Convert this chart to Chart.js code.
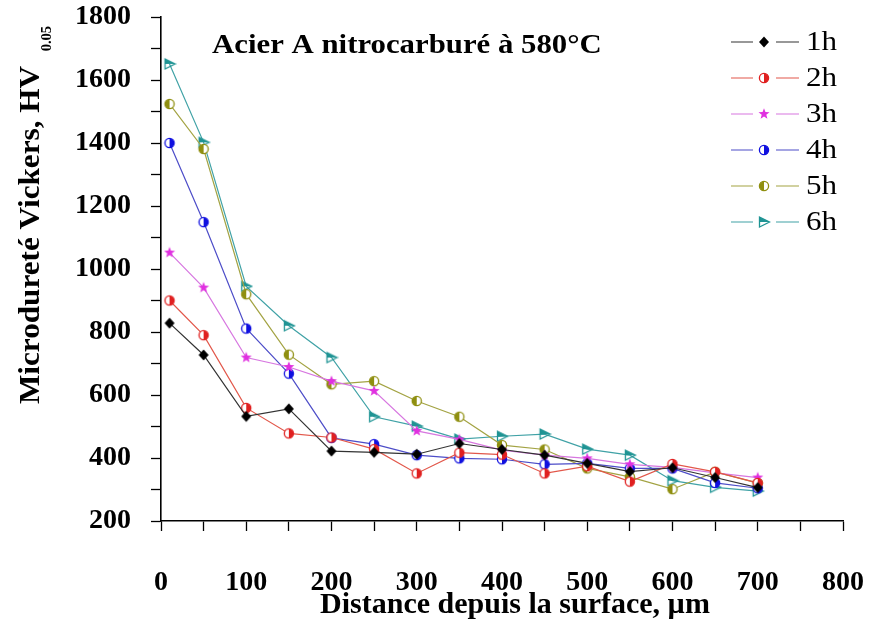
<!DOCTYPE html>
<html>
<head>
<meta charset="utf-8">
<script src="https://cdn.jsdelivr.net/npm/chart.js@4.4.1/dist/chart.umd.min.js"></script>
<style>
  body { margin: 0; background: #fff; }
</style>
</head>
<body>
<canvas id="hvChart" width="870" height="627"></canvas>
<script>
// distances from the surface (µm)
const distances = [10, 50, 100, 150, 200, 250, 300, 350, 400, 450, 500, 550, 600, 650, 700];

// microhardness HV0.05 for each nitrocarburizing time
const hv1h = [828, 727, 532, 556, 422, 418, 412, 446, 427, 409, 383, 357, 369, 338, 306];
const hv2h = [900, 790, 559, 478, 465, 428, 351, 417, 411, 351, 374, 325, 381, 356, 321];
const hv3h = [1052, 941, 719, 689, 644, 613, 486, 459, 425, 409, 399, 380, 370, 353, 338];
const hv4h = [1400, 1149, 811, 668, 464, 444, 409, 399, 396, 380, 383, 367, 367, 321, 304];
const hv5h = [1524, 1381, 920, 728, 634, 644, 581, 531, 441, 427, 367, 340, 301, 356, 320];
const hv6h = [1651, 1402, 945, 820, 719, 531, 501, 460, 469, 476, 428, 409, 328, 307, 295];

const seriesLabels = ["1h", "2h", "3h", "4h", "5h", "6h"];

const SERIF = "'Liberation Serif', 'Times New Roman', serif";

// small canvases used as point markers
function makeMarker(shape, color) {
  const c = document.createElement("canvas");
  c.width = 14;
  c.height = 14;
  const g = c.getContext("2d");
  const m = 7;
  g.strokeStyle = color;
  g.fillStyle = color;
  g.lineWidth = 1.3;
  if (shape === "diamond") {
    g.beginPath();
    g.moveTo(m, m - 5.5);
    g.lineTo(m + 5, m);
    g.lineTo(m, m + 5.5);
    g.lineTo(m - 5, m);
    g.closePath();
    g.fill();
  } else if (shape === "halfRight" || shape === "halfLeft") {
    const r = 4.6;
    g.beginPath();
    g.arc(m, m, r, 0, Math.PI * 2);
    g.fillStyle = "#fff";
    g.fill();
    g.fillStyle = color;
    g.beginPath();
    if (shape === "halfRight") g.arc(m, m, r, -Math.PI / 2, Math.PI / 2, false);
    else g.arc(m, m, r, Math.PI / 2, Math.PI * 1.5, false);
    g.closePath();
    g.fill();
    g.beginPath();
    g.arc(m, m, r, 0, Math.PI * 2);
    g.stroke();
  } else if (shape === "star") {
    g.beginPath();
    for (let i = 0; i < 10; i++) {
      const rad = i % 2 === 0 ? 5.8 : 2.4;
      const a = -Math.PI / 2 + i * Math.PI / 5;
      g.lineTo(m + rad * Math.cos(a), m + rad * Math.sin(a));
    }
    g.closePath();
    g.fill();
  } else if (shape === "triangle") {
    g.beginPath();
    g.moveTo(m - 4.5, m - 5);
    g.lineTo(m + 5.5, m);
    g.lineTo(m - 4.5, m);
    g.closePath();
    g.fill();
    g.beginPath();
    g.moveTo(m - 4.5, m - 5);
    g.lineTo(m + 5.5, m);
    g.lineTo(m - 4.5, m + 5);
    g.closePath();
    g.stroke();
  }
  return c;
}

const seriesStyle = [
  { line: "#333333", marker: makeMarker("diamond", "#000000") },
  { line: "#e2574a", marker: makeMarker("halfRight", "#e02020") },
  { line: "#d777e0", marker: makeMarker("star", "#e030e0") },
  { line: "#4d4dc8", marker: makeMarker("halfRight", "#1010e0") },
  { line: "#a3a343", marker: makeMarker("halfLeft", "#8f8f10") },
  { line: "#40a2a6", marker: makeMarker("triangle", "#1f9494") }
];

const allSeries = [hv1h, hv2h, hv3h, hv4h, hv5h, hv6h];

const datasets = allSeries.map((vals, i) => ({
  label: seriesLabels[i],
  data: vals.map((v, k) => ({ x: distances[k], y: v })),
  borderColor: seriesStyle[i].line,
  backgroundColor: seriesStyle[i].line,
  borderWidth: 1.2,
  pointStyle: seriesStyle[i].marker,
  tension: 0
}));

// titles and legend drawn at fixed spots like the original figure
const annotations = {
  id: "annotations",
  afterDraw(chart) {
    const ctx = chart.ctx;
    ctx.save();
    ctx.fillStyle = "#000";

    // title inside the plot (original type is a bit wider)
    ctx.save();
    ctx.translate(212, 53);
    ctx.scale(1.1, 1);
    ctx.font = "bold 28px " + SERIF;
    ctx.textAlign = "left";
    ctx.textBaseline = "alphabetic";
    ctx.fillText("Acier A nitrocarburé à 580°C", 0, 0);
    ctx.restore();

    // legend: line - marker - line, label
    chart.data.datasets.forEach((ds, i) => {
      const y = 42 + i * 36;
      ctx.strokeStyle = ds.borderColor;
      ctx.lineWidth = 1.2;
      ctx.beginPath();
      ctx.moveTo(731, y);
      ctx.lineTo(753, y);
      ctx.moveTo(776, y);
      ctx.lineTo(799, y);
      ctx.stroke();
      const img = ds.pointStyle;
      ctx.drawImage(img, 764 - img.width / 2, y - img.height / 2);
      ctx.save();
      ctx.translate(806, y + 1);
      ctx.scale(1.15, 1);
      ctx.fillStyle = "#000";
      ctx.font = "27px " + SERIF;
      ctx.textAlign = "left";
      ctx.textBaseline = "middle";
      ctx.fillText(ds.label, 0, 0);
      ctx.restore();
    });

    // x-axis title
    ctx.font = "bold 30px " + SERIF;
    ctx.textAlign = "center";
    ctx.textBaseline = "alphabetic";
    ctx.fillText("Distance depuis la surface, µm", 515, 613);

    // y-axis title with subscript
    ctx.translate(31, 235);
    ctx.rotate(-Math.PI / 2);
    ctx.scale(1.04, 1);
    ctx.font = "bold 30px " + SERIF;
    ctx.textAlign = "center";
    ctx.textBaseline = "middle";
    const main = "Microdureté Vickers, HV";
    ctx.fillText(main, 0, 0);
    const w = ctx.measureText(main).width;
    ctx.font = "bold 14px " + SERIF;
    ctx.textAlign = "left";
    ctx.fillText("0.05", w / 2 + 14, 16);
    ctx.restore();
  }
};

new Chart(document.getElementById("hvChart"), {
  type: "line",
  data: { datasets: datasets },
  options: {
    responsive: false,
    animation: false,
    layout: { padding: 0 },
    plugins: {
      legend: { display: false },
      tooltip: { enabled: false }
    },
    scales: {
      x: {
        type: "linear",
        min: 0,
        max: 800,
        afterFit: (scale) => {
          scale.height = 106;
          scale.paddingLeft = 10;
          scale.paddingRight = 27;
        },
        ticks: {
          stepSize: 50,
          autoSkip: false,
          maxRotation: 0,
          padding: 35,
          color: "#000",
          font: { family: SERIF, size: 28, weight: "bold" },
          callback: (v) => (v % 100 === 0 ? v : "")
        },
        grid: { drawOnChartArea: false, tickLength: 10, tickColor: "#000", tickWidth: 1.3 },
        border: { color: "#000", width: 1.6 }
      },
      y: {
        min: 200,
        max: 1800,
        afterFit: (scale) => {
          scale.width = 161;
          scale.paddingTop = 17;
          scale.paddingBottom = 17;
        },
        ticks: {
          stepSize: 100,
          autoSkip: false,
          padding: 20,
          color: "#000",
          font: { family: SERIF, size: 28, weight: "bold" },
          callback: (v) => (v % 200 === 0 ? v : "")
        },
        grid: { drawOnChartArea: false, tickLength: 10, tickColor: "#000", tickWidth: 1.3 },
        border: { color: "#000", width: 1.6 }
      }
    }
  },
  plugins: [annotations]
});
</script>
</body>
</html>
